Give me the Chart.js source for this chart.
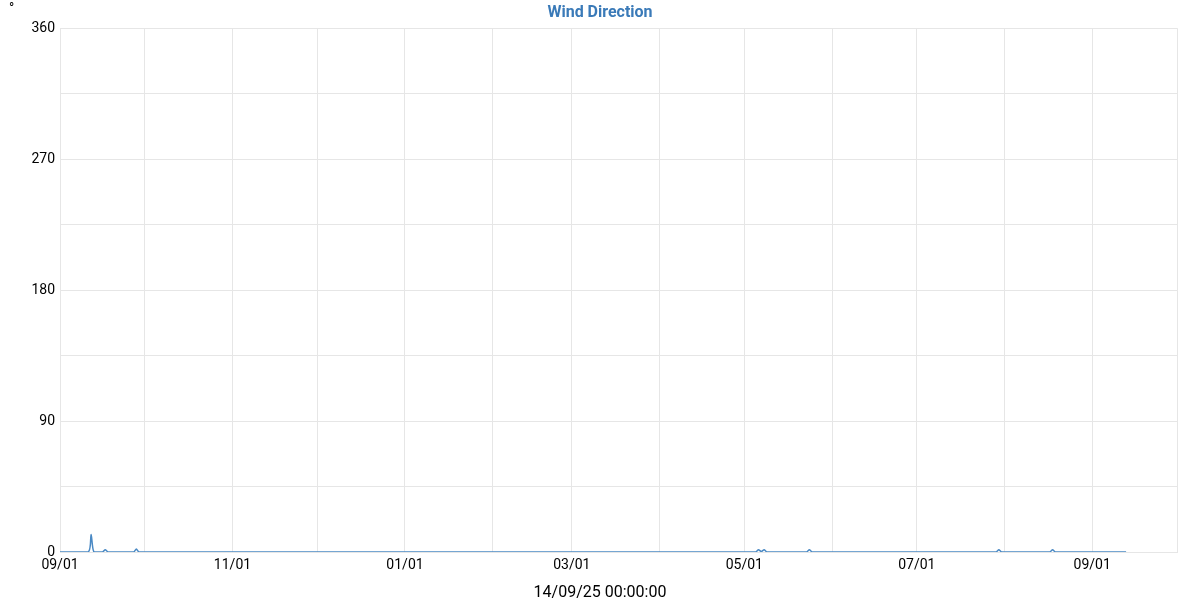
<!DOCTYPE html>
<html>
<head>
<meta charset="utf-8">
<script src="https://cdn.jsdelivr.net/npm/chart.js@4.4.1/dist/chart.umd.min.js"></script>
<style>
  html, body { margin: 0; padding: 0; background: #fff; }
  #wrap { width: 1200px; height: 600px; }
</style>
</head>
<body>
<div id="wrap"><canvas id="windChart"></canvas></div>
<script>
// readings (only where the trace changes; straight segments between them)
const readingDates = [
  '2024-09-01', '2024-09-11', '2024-09-12', '2024-09-13',
  '2024-09-16', '2024-09-17', '2024-09-18',
  '2024-09-27', '2024-09-28', '2024-09-29',
  '2025-05-05', '2025-05-06', '2025-05-07', '2025-05-08', '2025-05-09',
  '2025-05-23', '2025-05-24', '2025-05-25',
  '2025-07-29', '2025-07-30', '2025-07-31',
  '2025-08-17', '2025-08-18', '2025-08-19',
  '2025-09-13'
];
const directionDeg = [
  0, 0, 12, 0,
  0, 1.5, 0,
  0, 2, 0,
  0, 1.5, 0.3, 1.5, 0,
  0, 1.5, 0,
  0, 1.5, 0,
  0, 1.5, 0,
  0
];
const monthTicks = [
  '2024-09-01', '2024-10-01', '2024-11-01', '2024-12-01', '2025-01-01', '2025-02-01',
  '2025-03-01', '2025-04-01', '2025-05-01', '2025-06-01', '2025-07-01', '2025-08-01',
  '2025-09-01', '2025-10-01'
];
const labelledTicks = ['2024-09-01', '2024-11-01', '2025-01-01', '2025-03-01', '2025-05-01', '2025-07-01', '2025-09-01'];
const yTicks = [0, 45, 90, 135, 180, 225, 270, 315, 360];
const yLabelled = [0, 90, 180, 270, 360];
const xTitle = '14/09/25 00:00:00';

const DAY = 86400000;
const start = Date.UTC(2024, 8, 1);
const toDay = s => {
  const [y, m, d] = s.split('-').map(Number);
  return (Date.UTC(y, m - 1, d) - start) / DAY;
};
const fmt = day => {
  const dt = new Date(start + day * DAY);
  const mm = String(dt.getUTCMonth() + 1).padStart(2, '0');
  const dd = String(dt.getUTCDate()).padStart(2, '0');
  return mm + '/' + dd;
};
const labelledDays = labelledTicks.map(toDay);

const points = readingDates.map((d, i) => ({ x: toDay(d), y: directionDeg[i] }));

// unit mark top-left and the x caption centred on the whole canvas
const extraText = {
  id: 'extraText',
  afterDraw(c) {
    const ctx = c.ctx;
    ctx.save();
    ctx.fillStyle = '#000';
    ctx.textBaseline = 'middle';
    ctx.font = '14px Roboto';
    ctx.textAlign = 'left';
    ctx.fillText('°', 9, 9);
    ctx.font = '16px Roboto';
    ctx.textAlign = 'center';
    ctx.fillText(xTitle, c.width / 2, 593);
    ctx.restore();
  }
};

new Chart(document.getElementById('windChart'), {
  type: 'line',
  data: {
    datasets: [{
      label: 'Wind Direction',
      data: points,
      borderColor: '#4a89c4',
      borderWidth: 1.5,
      pointRadius: 0,
      tension: 0.25,
      fill: false
    }]
  },
  options: {
    responsive: true,
    maintainAspectRatio: false,
    animation: false,
    layout: { padding: { top: 0, right: 0, bottom: 0, left: 0 } },
    plugins: {
      legend: { display: false },
      tooltip: { enabled: false },
      title: {
        display: true,
        text: 'Wind Direction',
        color: '#3a7ab8',
        font: { family: 'Roboto', size: 16, weight: 'bold' },
        padding: { top: 3, bottom: 6 }
      }
    },
    scales: {
      x: {
        type: 'linear',
        min: 0,
        max: toDay('2025-10-01'),
        afterBuildTicks: axis => { axis.ticks = monthTicks.map(d => ({ value: toDay(d) })); },
        afterFit: axis => { axis.height = 48; },
        grid: { color: '#e6e6e6', drawTicks: false },
        border: { color: '#e6e6e6' },
        ticks: {
          color: '#000',
          font: { family: 'Roboto', size: 14 },
          padding: 5,
          maxRotation: 0,
          autoSkip: false,
          callback: v => (labelledDays.includes(v) ? fmt(v) : '')
        }
      },
      y: {
        min: 0,
        max: 360,
        afterBuildTicks: axis => { axis.ticks = yTicks.map(v => ({ value: v })); },
        afterFit: axis => { axis.width = 60; },
        grid: { color: '#e6e6e6', drawTicks: false },
        border: { color: '#e6e6e6' },
        ticks: {
          color: '#000',
          font: { family: 'Roboto', size: 14 },
          padding: 5,
          callback: v => (yLabelled.includes(v) ? String(v) : '')
        }
      },
      spacer: {
        position: 'right',
        display: true,
        afterFit: axis => { axis.width = 23; },
        grid: { display: false, drawOnChartArea: false },
        border: { display: false },
        ticks: { display: false }
      }
    }
  },
  plugins: [extraText]
});
</script>
</body>
</html>
